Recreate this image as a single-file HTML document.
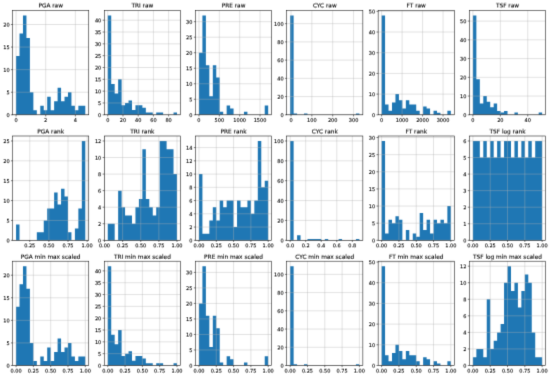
<!DOCTYPE html><html><head><meta charset="utf-8"><title>histograms</title><style>html,body{margin:0;padding:0;background:#fff}svg{display:block}text{font-family:"DejaVu Sans","Liberation Sans",sans-serif;fill:#000;stroke:#000;stroke-width:0.1px}.t{font-size:5.80px;text-anchor:middle}.x{font-size:5.00px;text-anchor:middle}.y{font-size:5.00px;text-anchor:end}.g{stroke:#b0b0b0;stroke-width:0.37}.s{stroke:#111;stroke-width:0.55;fill:none}.b{fill:#1f77b4}</style></head><body>
<svg width="550" height="377" viewBox="0 0 550 377">
<defs>
<filter id="soft" x="0" y="0" width="550" height="377" filterUnits="userSpaceOnUse" color-interpolation-filters="sRGB"><feConvolveMatrix order="3" kernelMatrix="0.0121 0.0858 0.0121 0.0858 0.6084 0.0858 0.0121 0.0858 0.0121" edgeMode="duplicate" preserveAlpha="true"/></filter>
<filter id="s0" x="0" y="0" width="550" height="377" filterUnits="userSpaceOnUse" color-interpolation-filters="sRGB"><feConvolveMatrix order="3" kernelMatrix="0.0550 0.3900 0.0550 0.0550 0.3900 0.0550 0.0000 0.0000 0.0000" edgeMode="none" preserveAlpha="false"/></filter>
<filter id="s1" x="0" y="0" width="550" height="377" filterUnits="userSpaceOnUse" color-interpolation-filters="sRGB"><feConvolveMatrix order="3" kernelMatrix="0.0413 0.2925 0.0413 0.0688 0.4875 0.0688 0.0000 0.0000 0.0000" edgeMode="none" preserveAlpha="false"/></filter>
<filter id="s2" x="0" y="0" width="550" height="377" filterUnits="userSpaceOnUse" color-interpolation-filters="sRGB"><feConvolveMatrix order="3" kernelMatrix="0.0293 0.2077 0.0293 0.0789 0.5597 0.0789 0.0018 0.0127 0.0018" edgeMode="none" preserveAlpha="false"/></filter>
<filter id="s3" x="0" y="0" width="550" height="377" filterUnits="userSpaceOnUse" color-interpolation-filters="sRGB"><feConvolveMatrix order="3" kernelMatrix="0.0198 0.1406 0.0198 0.0841 0.5962 0.0841 0.0061 0.0431 0.0061" edgeMode="none" preserveAlpha="false"/></filter>
<filter id="s4" x="0" y="0" width="550" height="377" filterUnits="userSpaceOnUse" color-interpolation-filters="sRGB"><feConvolveMatrix order="3" kernelMatrix="0.0121 0.0858 0.0121 0.0858 0.6084 0.0858 0.0121 0.0858 0.0121" edgeMode="none" preserveAlpha="false"/></filter>
<filter id="s5" x="0" y="0" width="550" height="377" filterUnits="userSpaceOnUse" color-interpolation-filters="sRGB"><feConvolveMatrix order="3" kernelMatrix="0.0061 0.0431 0.0061 0.0841 0.5962 0.0841 0.0198 0.1406 0.0198" edgeMode="none" preserveAlpha="false"/></filter>
<filter id="s6" x="0" y="0" width="550" height="377" filterUnits="userSpaceOnUse" color-interpolation-filters="sRGB"><feConvolveMatrix order="3" kernelMatrix="0.0018 0.0127 0.0018 0.0789 0.5597 0.0789 0.0293 0.2077 0.0293" edgeMode="none" preserveAlpha="false"/></filter>
<filter id="s7" x="0" y="0" width="550" height="377" filterUnits="userSpaceOnUse" color-interpolation-filters="sRGB"><feConvolveMatrix order="3" kernelMatrix="0.0000 0.0000 0.0000 0.0688 0.4875 0.0688 0.0413 0.2925 0.0413" edgeMode="none" preserveAlpha="false"/></filter>
</defs>
<rect width="550" height="377" fill="#fff"/>
<g filter="url(#soft)"><rect width="550" height="377" fill="#fff"/>
<path class="b" d="M16.06 114.8V56.1H19.52V114.8ZM19.52 114.8V33.53H22.98V114.8ZM22.98 114.8V15.47H26.45V114.8ZM26.45 114.8V38.04H29.91V114.8ZM29.91 114.8V92.22H33.37V114.8ZM33.37 114.8V110.28H36.83V114.8ZM40.29 114.8V105.77H43.75V114.8ZM43.75 114.8V110.28H47.21V114.8ZM47.21 114.8V96.74H50.67V114.8ZM50.67 114.8V110.28H54.14V114.8ZM54.14 114.8V101.25H57.6V114.8ZM57.6 114.8V87.71H61.06V114.8ZM61.06 114.8V101.25H64.52V114.8ZM64.52 114.8V96.74H67.98V114.8ZM67.98 114.8V92.22H71.44V114.8ZM71.44 114.8V105.77H74.9V114.8ZM74.9 114.8V110.28H78.37V114.8ZM78.37 114.8V105.77H81.83V114.8ZM81.83 114.8V105.77H85.29V114.8Z"/>
<path class="g" d="M16.06 10.5V114.8M45.71 10.5V114.8M75.36 10.5V114.8M12.6 114.8H88.75M12.6 92.22H88.75M12.6 69.65H88.75M12.6 47.07H88.75M12.6 24.5H88.75"/>
<path class="s" d="M16.06 114.8v1.66M45.71 114.8v1.66M75.36 114.8v1.66M12.6 114.8h-1.66M12.6 92.22h-1.66M12.6 69.65h-1.66M12.6 47.07h-1.66M12.6 24.5h-1.66"/>
<rect class="s" x="12.6" y="10.5" width="76.15" height="104.3"/>
<path class="b" d="M107.76 114.8V15.47H111.22V114.8ZM111.22 114.8V84.05H114.68V114.8ZM114.68 114.8V93.51H118.15V114.8ZM118.15 114.8V79.32H121.61V114.8ZM121.61 114.8V105.34H125.07V114.8ZM125.07 114.8V102.97H128.53V114.8ZM128.53 114.8V100.61H131.99V114.8ZM131.99 114.8V110.07H135.45V114.8ZM135.45 114.8V105.34H138.91V114.8ZM138.91 114.8V105.34H142.38V114.8ZM142.38 114.8V107.7H145.84V114.8ZM145.84 114.8V112.43H149.3V114.8ZM149.3 114.8V112.43H152.76V114.8ZM156.22 114.8V112.43H159.68V114.8ZM159.68 114.8V112.43H163.14V114.8ZM173.53 114.8V112.43H176.99V114.8Z"/>
<path class="g" d="M107.76 10.5V114.8M122.98 10.5V114.8M138.19 10.5V114.8M153.41 10.5V114.8M168.62 10.5V114.8M104.3 114.8H180.45M104.3 102.97H180.45M104.3 91.15H180.45M104.3 79.32H180.45M104.3 67.5H180.45M104.3 55.67H180.45M104.3 43.85H180.45M104.3 32.02H180.45M104.3 20.2H180.45"/>
<path class="s" d="M107.76 114.8v1.66M122.98 114.8v1.66M138.19 114.8v1.66M153.41 114.8v1.66M168.62 114.8v1.66M104.3 114.8h-1.66M104.3 102.97h-1.66M104.3 91.15h-1.66M104.3 79.32h-1.66M104.3 67.5h-1.66M104.3 55.67h-1.66M104.3 43.85h-1.66M104.3 32.02h-1.66M104.3 20.2h-1.66"/>
<rect class="s" x="104.3" y="10.5" width="76.15" height="104.3"/>
<path class="b" d="M198.96 114.8V52.72H202.42V114.8ZM202.42 114.8V15.47H205.88V114.8ZM205.88 114.8V65.13H209.35V114.8ZM209.35 114.8V96.17H212.81V114.8ZM212.81 114.8V65.13H216.27V114.8ZM216.27 114.8V77.55H219.73V114.8ZM219.73 114.8V111.7H223.19V114.8ZM226.65 114.8V105.49H230.11V114.8ZM230.11 114.8V108.59H233.57V114.8ZM243.96 114.8V111.7H247.42V114.8ZM264.73 114.8V105.49H268.19V114.8Z"/>
<path class="g" d="M198.96 10.5V114.8M219.32 10.5V114.8M239.68 10.5V114.8M260.04 10.5V114.8M195.5 114.8H271.65M195.5 99.28H271.65M195.5 83.76H271.65M195.5 68.24H271.65M195.5 52.72H271.65M195.5 37.2H271.65M195.5 21.68H271.65"/>
<path class="s" d="M198.96 114.8v1.66M219.32 114.8v1.66M239.68 114.8v1.66M260.04 114.8v1.66M195.5 114.8h-1.66M195.5 99.28h-1.66M195.5 83.76h-1.66M195.5 68.24h-1.66M195.5 52.72h-1.66M195.5 37.2h-1.66M195.5 21.68h-1.66"/>
<rect class="s" x="195.5" y="10.5" width="76.15" height="104.3"/>
<path class="b" d="M290.16 114.8V15.47H293.62V114.8ZM293.62 114.8V113.54H297.08V114.8ZM304.01 114.8V113.54H307.47V114.8ZM355.93 114.8V113.54H359.39V114.8Z"/>
<path class="g" d="M291 10.5V114.8M311.85 10.5V114.8M332.7 10.5V114.8M353.55 10.5V114.8M286.7 114.8H362.85M286.7 96.57H362.85M286.7 78.35H362.85M286.7 60.12H362.85M286.7 41.89H362.85M286.7 23.67H362.85"/>
<path class="s" d="M291 114.8v1.66M311.85 114.8v1.66M332.7 114.8v1.66M353.55 114.8v1.66M286.7 114.8h-1.66M286.7 96.57h-1.66M286.7 78.35h-1.66M286.7 60.12h-1.66M286.7 41.89h-1.66M286.7 23.67h-1.66"/>
<rect class="s" x="286.7" y="10.5" width="76.15" height="104.3"/>
<path class="b" d="M381.61 114.8V15.47H385.07V114.8ZM385.07 114.8V104.45H388.53V114.8ZM388.53 114.8V110.66H392V114.8ZM392 114.8V102.38H395.46V114.8ZM395.46 114.8V94.11H398.92V114.8ZM398.92 114.8V100.31H402.38V114.8ZM402.38 114.8V108.59H405.84V114.8ZM405.84 114.8V100.31H409.3V114.8ZM409.3 114.8V104.45H412.76V114.8ZM412.76 114.8V104.45H416.22V114.8ZM416.22 114.8V110.66H419.69V114.8ZM423.15 114.8V106.52H426.61V114.8ZM426.61 114.8V108.59H430.07V114.8ZM433.53 114.8V110.66H436.99V114.8ZM436.99 114.8V112.73H440.45V114.8ZM447.38 114.8V110.66H450.84V114.8Z"/>
<path class="g" d="M381.61 10.5V114.8M402.09 10.5V114.8M422.57 10.5V114.8M443.06 10.5V114.8M378.15 114.8H454.3M378.15 94.11H454.3M378.15 73.41H454.3M378.15 52.72H454.3M378.15 32.02H454.3M378.15 11.33H454.3"/>
<path class="s" d="M381.61 114.8v1.66M402.09 114.8v1.66M422.57 114.8v1.66M443.06 114.8v1.66M378.15 114.8h-1.66M378.15 94.11h-1.66M378.15 73.41h-1.66M378.15 52.72h-1.66M378.15 32.02h-1.66M378.15 11.33h-1.66"/>
<rect class="s" x="378.15" y="10.5" width="76.15" height="104.3"/>
<path class="b" d="M472.91 114.8V15.47H476.37V114.8ZM476.37 114.8V79.19H479.83V114.8ZM479.83 114.8V103.55H483.3V114.8ZM483.3 114.8V96.06H486.76V114.8ZM486.76 114.8V101.68H490.22V114.8ZM490.22 114.8V107.3H493.68V114.8ZM493.68 114.8V103.55H497.14V114.8ZM497.14 114.8V111.05H500.6V114.8ZM500.6 114.8V112.58H504.06V114.8ZM504.06 114.8V111.05H507.52V114.8ZM514.45 114.8V112.58H517.91V114.8ZM538.68 114.8V112.58H542.14V114.8Z"/>
<path class="g" d="M472.91 10.5V114.8M500.33 10.5V114.8M527.74 10.5V114.8M469.45 114.8H545.6M469.45 96.06H545.6M469.45 77.32H545.6M469.45 58.57H545.6M469.45 39.83H545.6M469.45 21.09H545.6"/>
<path class="s" d="M472.91 114.8v1.66M500.33 114.8v1.66M527.74 114.8v1.66M469.45 114.8h-1.66M469.45 96.06h-1.66M469.45 77.32h-1.66M469.45 58.57h-1.66M469.45 39.83h-1.66M469.45 21.09h-1.66"/>
<rect class="s" x="469.45" y="10.5" width="76.15" height="104.3"/>
<path class="b" d="M16.06 240.3V224.41H19.52V240.3ZM36.83 240.3V232.35H40.29V240.3ZM40.29 240.3V232.35H43.75V240.3ZM43.75 240.3V220.43H47.21V240.3ZM47.21 240.3V208.51H50.67V240.3ZM50.67 240.3V208.51H54.14V240.3ZM54.14 240.3V192.62H57.6V240.3ZM57.6 240.3V204.54H61.06V240.3ZM61.06 240.3V188.65H64.52V240.3ZM64.52 240.3V196.59H67.98V240.3ZM67.98 240.3V232.35H71.44V240.3ZM74.9 240.3V228.38H78.37V240.3ZM78.37 240.3V208.51H81.83V240.3ZM81.83 240.3V140.97H85.29V240.3Z"/>
<path class="g" d="M29.75 136V240.3M48.88 136V240.3M68 136V240.3M87.12 136V240.3M12.6 240.3H88.75M12.6 220.43H88.75M12.6 200.57H88.75M12.6 180.7H88.75M12.6 160.83H88.75M12.6 140.97H88.75"/>
<path class="s" d="M29.75 240.3v1.66M48.88 240.3v1.66M68 240.3v1.66M87.12 240.3v1.66M12.6 240.3h-1.66M12.6 220.43h-1.66M12.6 200.57h-1.66M12.6 180.7h-1.66M12.6 160.83h-1.66M12.6 140.97h-1.66"/>
<rect class="s" x="12.6" y="136" width="76.15" height="104.3"/>
<path class="b" d="M107.76 240.3V223.74H111.22V240.3ZM111.22 240.3V223.74H114.68V240.3ZM118.15 240.3V190.63H121.61V240.3ZM121.61 240.3V207.19H125.07V240.3ZM125.07 240.3V215.47H128.53V240.3ZM128.53 240.3V215.47H131.99V240.3ZM131.99 240.3V223.74H135.45V240.3ZM135.45 240.3V207.19H138.91V240.3ZM138.91 240.3V198.91H142.38V240.3ZM142.38 240.3V149.24H145.84V240.3ZM145.84 240.3V198.91H149.3V240.3ZM149.3 240.3V207.19H152.76V240.3ZM152.76 240.3V215.47H156.22V240.3ZM156.22 240.3V207.19H159.68V240.3ZM159.68 240.3V140.97H163.14V240.3ZM163.14 240.3V140.97H166.6V240.3ZM166.6 240.3V149.24H170.07V240.3ZM170.07 240.3V149.24H173.53V240.3ZM173.53 240.3V174.08H176.99V240.3Z"/>
<path class="g" d="M104.5 136V240.3M122.62 136V240.3M140.74 136V240.3M158.87 136V240.3M176.99 136V240.3M104.3 240.3H180.45M104.3 223.74H180.45M104.3 207.19H180.45M104.3 190.63H180.45M104.3 174.08H180.45M104.3 157.52H180.45M104.3 140.97H180.45"/>
<path class="s" d="M104.5 240.3v1.66M122.62 240.3v1.66M140.74 240.3v1.66M158.87 240.3v1.66M176.99 240.3v1.66M104.3 240.3h-1.66M104.3 223.74h-1.66M104.3 207.19h-1.66M104.3 190.63h-1.66M104.3 174.08h-1.66M104.3 157.52h-1.66M104.3 140.97h-1.66"/>
<rect class="s" x="104.3" y="136" width="76.15" height="104.3"/>
<path class="b" d="M198.96 240.3V174.08H202.42V240.3ZM202.42 240.3V233.68H205.88V240.3ZM205.88 240.3V233.68H209.35V240.3ZM209.35 240.3V220.43H212.81V240.3ZM212.81 240.3V207.19H216.27V240.3ZM216.27 240.3V220.43H219.73V240.3ZM219.73 240.3V200.57H223.19V240.3ZM223.19 240.3V207.19H226.65V240.3ZM226.65 240.3V200.57H230.11V240.3ZM230.11 240.3V200.57H233.57V240.3ZM233.57 240.3V227.06H237.04V240.3ZM237.04 240.3V200.57H240.5V240.3ZM240.5 240.3V207.19H243.96V240.3ZM243.96 240.3V207.19H247.42V240.3ZM247.42 240.3V200.57H250.88V240.3ZM250.88 240.3V213.81H254.34V240.3ZM254.34 240.3V200.57H257.8V240.3ZM257.8 240.3V140.97H261.27V240.3ZM261.27 240.3V187.32H264.73V240.3ZM264.73 240.3V180.7H268.19V240.3Z"/>
<path class="g" d="M198.96 136V240.3M216.27 136V240.3M233.57 136V240.3M250.88 136V240.3M268.19 136V240.3M195.5 240.3H271.65M195.5 227.06H271.65M195.5 213.81H271.65M195.5 200.57H271.65M195.5 187.32H271.65M195.5 174.08H271.65M195.5 160.83H271.65M195.5 147.59H271.65"/>
<path class="s" d="M198.96 240.3v1.66M216.27 240.3v1.66M233.57 240.3v1.66M250.88 240.3v1.66M268.19 240.3v1.66M195.5 240.3h-1.66M195.5 227.06h-1.66M195.5 213.81h-1.66M195.5 200.57h-1.66M195.5 187.32h-1.66M195.5 174.08h-1.66M195.5 160.83h-1.66M195.5 147.59h-1.66"/>
<rect class="s" x="195.5" y="136" width="76.15" height="104.3"/>
<path class="b" d="M290.16 240.3V140.97H293.62V240.3ZM297.08 240.3V235.33H300.55V240.3ZM307.47 240.3V238.96H310.93V240.3ZM310.93 240.3V238.96H314.39V240.3ZM314.39 240.3V238.96H317.85V240.3ZM317.85 240.3V238.96H321.31V240.3ZM324.77 240.3V238.96H328.24V240.3ZM338.62 240.3V238.96H342.08V240.3ZM355.93 240.3V238.96H359.39V240.3Z"/>
<path class="g" d="M290.16 136V240.3M305.7 136V240.3M321.24 136V240.3M336.78 136V240.3M352.32 136V240.3M286.7 240.3H362.85M286.7 220.43H362.85M286.7 200.57H362.85M286.7 180.7H362.85M286.7 160.83H362.85M286.7 140.97H362.85"/>
<path class="s" d="M290.16 240.3v1.66M305.7 240.3v1.66M321.24 240.3v1.66M336.78 240.3v1.66M352.32 240.3v1.66M286.7 240.3h-1.66M286.7 220.43h-1.66M286.7 200.57h-1.66M286.7 180.7h-1.66M286.7 160.83h-1.66M286.7 140.97h-1.66"/>
<rect class="s" x="286.7" y="136" width="76.15" height="104.3"/>
<path class="b" d="M381.61 240.3V140.97H385.07V240.3ZM385.07 240.3V233.45H388.53V240.3ZM388.53 240.3V219.75H392V240.3ZM392 240.3V223.17H395.46V240.3ZM395.46 240.3V216.32H398.92V240.3ZM398.92 240.3V219.75H402.38V240.3ZM405.84 240.3V230.02H409.3V240.3ZM412.76 240.3V233.45H416.22V240.3ZM416.22 240.3V236.87H419.69V240.3ZM419.69 240.3V212.9H423.15V240.3ZM423.15 240.3V230.02H426.61V240.3ZM426.61 240.3V219.75H430.07V240.3ZM430.07 240.3V233.45H433.53V240.3ZM433.53 240.3V219.75H436.99V240.3ZM436.99 240.3V223.17H440.45V240.3ZM440.45 240.3V219.75H443.92V240.3ZM443.92 240.3V223.17H447.38V240.3ZM447.38 240.3V206.05H450.84V240.3Z"/>
<path class="g" d="M381.61 136V240.3M398.92 136V240.3M416.22 136V240.3M433.53 136V240.3M450.84 136V240.3M378.15 240.3H454.3M378.15 223.17H454.3M378.15 206.05H454.3M378.15 188.92H454.3M378.15 171.79H454.3M378.15 154.67H454.3M378.15 137.54H454.3"/>
<path class="s" d="M381.61 240.3v1.66M398.92 240.3v1.66M416.22 240.3v1.66M433.53 240.3v1.66M450.84 240.3v1.66M378.15 240.3h-1.66M378.15 223.17h-1.66M378.15 206.05h-1.66M378.15 188.92h-1.66M378.15 171.79h-1.66M378.15 154.67h-1.66M378.15 137.54h-1.66"/>
<rect class="s" x="378.15" y="136" width="76.15" height="104.3"/>
<path class="b" d="M472.91 240.3V140.97H476.37V240.3ZM476.37 240.3V140.97H479.83V240.3ZM479.83 240.3V157.52H483.3V240.3ZM483.3 240.3V140.97H486.76V240.3ZM486.76 240.3V157.52H490.22V240.3ZM490.22 240.3V140.97H493.68V240.3ZM493.68 240.3V157.52H497.14V240.3ZM497.14 240.3V140.97H500.6V240.3ZM500.6 240.3V157.52H504.06V240.3ZM504.06 240.3V140.97H507.52V240.3ZM507.52 240.3V140.97H510.99V240.3ZM510.99 240.3V157.52H514.45V240.3ZM514.45 240.3V140.97H517.91V240.3ZM517.91 240.3V157.52H521.37V240.3ZM521.37 240.3V140.97H524.83V240.3ZM524.83 240.3V157.52H528.29V240.3ZM528.29 240.3V140.97H531.75V240.3ZM531.75 240.3V157.52H535.22V240.3ZM535.22 240.3V140.97H538.68V240.3ZM538.68 240.3V140.97H542.14V240.3Z"/>
<path class="g" d="M472.91 136V240.3M490.22 136V240.3M507.52 136V240.3M524.83 136V240.3M542.14 136V240.3M469.45 240.3H545.6M469.45 223.74H545.6M469.45 207.19H545.6M469.45 190.63H545.6M469.45 174.08H545.6M469.45 157.52H545.6M469.45 140.97H545.6"/>
<path class="s" d="M472.91 240.3v1.66M490.22 240.3v1.66M507.52 240.3v1.66M524.83 240.3v1.66M542.14 240.3v1.66M469.45 240.3h-1.66M469.45 223.74h-1.66M469.45 207.19h-1.66M469.45 190.63h-1.66M469.45 174.08h-1.66M469.45 157.52h-1.66M469.45 140.97h-1.66"/>
<rect class="s" x="469.45" y="136" width="76.15" height="104.3"/>
<path class="b" d="M16.06 365.5V306.8H19.52V365.5ZM19.52 365.5V284.23H22.98V365.5ZM22.98 365.5V266.17H26.45V365.5ZM26.45 365.5V288.74H29.91V365.5ZM29.91 365.5V342.92H33.37V365.5ZM33.37 365.5V360.98H36.83V365.5ZM40.29 365.5V356.47H43.75V365.5ZM43.75 365.5V360.98H47.21V365.5ZM47.21 365.5V347.44H50.68V365.5ZM50.68 365.5V360.98H54.14V365.5ZM54.14 365.5V351.95H57.6V365.5ZM57.6 365.5V338.41H61.06V365.5ZM61.06 365.5V351.95H64.52V365.5ZM64.52 365.5V347.44H67.98V365.5ZM67.98 365.5V342.92H71.44V365.5ZM71.44 365.5V356.47H74.9V365.5ZM74.9 365.5V360.98H78.37V365.5ZM78.37 365.5V356.47H81.83V365.5ZM81.83 365.5V356.47H85.29V365.5Z"/>
<path class="g" d="M16.06 261.2V365.5M33.37 261.2V365.5M50.68 261.2V365.5M67.98 261.2V365.5M85.29 261.2V365.5M12.6 365.5H88.75M12.6 342.92H88.75M12.6 320.35H88.75M12.6 297.77H88.75M12.6 275.2H88.75"/>
<path class="s" d="M16.06 365.5v1.66M33.37 365.5v1.66M50.68 365.5v1.66M67.98 365.5v1.66M85.29 365.5v1.66M12.6 365.5h-1.66M12.6 342.92h-1.66M12.6 320.35h-1.66M12.6 297.77h-1.66M12.6 275.2h-1.66"/>
<rect class="s" x="12.6" y="261.2" width="76.15" height="104.3"/>
<path class="b" d="M107.76 365.5V266.17H111.22V365.5ZM111.22 365.5V334.75H114.68V365.5ZM114.68 365.5V344.21H118.15V365.5ZM118.15 365.5V330.02H121.61V365.5ZM121.61 365.5V356.04H125.07V365.5ZM125.07 365.5V353.67H128.53V365.5ZM128.53 365.5V351.31H131.99V365.5ZM131.99 365.5V360.77H135.45V365.5ZM135.45 365.5V356.04H138.91V365.5ZM138.91 365.5V356.04H142.38V365.5ZM142.38 365.5V358.4H145.84V365.5ZM145.84 365.5V363.13H149.3V365.5ZM149.3 365.5V363.13H152.76V365.5ZM156.22 365.5V363.13H159.68V365.5ZM159.68 365.5V363.13H163.14V365.5ZM173.53 365.5V363.13H176.99V365.5Z"/>
<path class="g" d="M107.76 261.2V365.5M125.07 261.2V365.5M142.38 261.2V365.5M159.68 261.2V365.5M176.99 261.2V365.5M104.3 365.5H180.45M104.3 353.67H180.45M104.3 341.85H180.45M104.3 330.02H180.45M104.3 318.2H180.45M104.3 306.37H180.45M104.3 294.55H180.45M104.3 282.72H180.45M104.3 270.9H180.45"/>
<path class="s" d="M107.76 365.5v1.66M125.07 365.5v1.66M142.38 365.5v1.66M159.68 365.5v1.66M176.99 365.5v1.66M104.3 365.5h-1.66M104.3 353.67h-1.66M104.3 341.85h-1.66M104.3 330.02h-1.66M104.3 318.2h-1.66M104.3 306.37h-1.66M104.3 294.55h-1.66M104.3 282.72h-1.66M104.3 270.9h-1.66"/>
<rect class="s" x="104.3" y="261.2" width="76.15" height="104.3"/>
<path class="b" d="M198.96 365.5V303.42H202.42V365.5ZM202.42 365.5V266.17H205.88V365.5ZM205.88 365.5V315.83H209.35V365.5ZM209.35 365.5V346.88H212.81V365.5ZM212.81 365.5V315.83H216.27V365.5ZM216.27 365.5V328.25H219.73V365.5ZM219.73 365.5V362.4H223.19V365.5ZM226.65 365.5V356.19H230.11V365.5ZM230.11 365.5V359.29H233.57V365.5ZM243.96 365.5V362.4H247.42V365.5ZM264.73 365.5V356.19H268.19V365.5Z"/>
<path class="g" d="M198.96 261.2V365.5M216.27 261.2V365.5M233.57 261.2V365.5M250.88 261.2V365.5M268.19 261.2V365.5M195.5 365.5H271.65M195.5 349.98H271.65M195.5 334.46H271.65M195.5 318.94H271.65M195.5 303.42H271.65M195.5 287.9H271.65M195.5 272.38H271.65"/>
<path class="s" d="M198.96 365.5v1.66M216.27 365.5v1.66M233.57 365.5v1.66M250.88 365.5v1.66M268.19 365.5v1.66M195.5 365.5h-1.66M195.5 349.98h-1.66M195.5 334.46h-1.66M195.5 318.94h-1.66M195.5 303.42h-1.66M195.5 287.9h-1.66M195.5 272.38h-1.66"/>
<rect class="s" x="195.5" y="261.2" width="76.15" height="104.3"/>
<path class="b" d="M290.16 365.5V266.17H293.62V365.5ZM293.62 365.5V364.24H297.08V365.5ZM304.01 365.5V364.24H307.47V365.5ZM355.93 365.5V364.24H359.39V365.5Z"/>
<path class="g" d="M290.16 261.2V365.5M307.47 261.2V365.5M324.77 261.2V365.5M342.08 261.2V365.5M359.39 261.2V365.5M286.7 365.5H362.85M286.7 347.27H362.85M286.7 329.05H362.85M286.7 310.82H362.85M286.7 292.59H362.85M286.7 274.37H362.85"/>
<path class="s" d="M290.16 365.5v1.66M307.47 365.5v1.66M324.77 365.5v1.66M342.08 365.5v1.66M359.39 365.5v1.66M286.7 365.5h-1.66M286.7 347.27h-1.66M286.7 329.05h-1.66M286.7 310.82h-1.66M286.7 292.59h-1.66M286.7 274.37h-1.66"/>
<rect class="s" x="286.7" y="261.2" width="76.15" height="104.3"/>
<path class="b" d="M381.61 365.5V266.17H385.07V365.5ZM385.07 365.5V355.15H388.53V365.5ZM388.53 365.5V361.36H392V365.5ZM392 365.5V353.08H395.46V365.5ZM395.46 365.5V344.81H398.92V365.5ZM398.92 365.5V351.01H402.38V365.5ZM402.38 365.5V359.29H405.84V365.5ZM405.84 365.5V351.01H409.3V365.5ZM409.3 365.5V355.15H412.76V365.5ZM412.76 365.5V355.15H416.22V365.5ZM416.22 365.5V361.36H419.69V365.5ZM423.15 365.5V357.22H426.61V365.5ZM426.61 365.5V359.29H430.07V365.5ZM433.53 365.5V361.36H436.99V365.5ZM436.99 365.5V363.43H440.45V365.5ZM447.38 365.5V361.36H450.84V365.5Z"/>
<path class="g" d="M381.61 261.2V365.5M398.92 261.2V365.5M416.22 261.2V365.5M433.53 261.2V365.5M450.84 261.2V365.5M378.15 365.5H454.3M378.15 344.81H454.3M378.15 324.11H454.3M378.15 303.42H454.3M378.15 282.72H454.3M378.15 262.03H454.3"/>
<path class="s" d="M381.61 365.5v1.66M398.92 365.5v1.66M416.22 365.5v1.66M433.53 365.5v1.66M450.84 365.5v1.66M378.15 365.5h-1.66M378.15 344.81h-1.66M378.15 324.11h-1.66M378.15 303.42h-1.66M378.15 282.72h-1.66M378.15 262.03h-1.66"/>
<rect class="s" x="378.15" y="261.2" width="76.15" height="104.3"/>
<path class="b" d="M472.91 365.5V357.22H476.37V365.5ZM476.37 365.5V348.94H479.83V365.5ZM479.83 365.5V348.94H483.3V365.5ZM483.3 365.5V357.22H486.76V365.5ZM486.76 365.5V299.28H490.22V365.5ZM490.22 365.5V348.94H493.68V365.5ZM493.68 365.5V340.67H497.14V365.5ZM497.14 365.5V332.39H500.6V365.5ZM500.6 365.5V324.11H504.06V365.5ZM504.06 365.5V282.72H507.52V365.5ZM507.52 365.5V266.17H510.99V365.5ZM510.99 365.5V291H514.45V365.5ZM514.45 365.5V282.72H517.91V365.5ZM517.91 365.5V307.56H521.37V365.5ZM521.37 365.5V291H524.83V365.5ZM524.83 365.5V274.44H528.29V365.5ZM528.29 365.5V282.72H531.75V365.5ZM531.75 365.5V332.39H535.22V365.5ZM535.22 365.5V357.22H538.68V365.5ZM538.68 365.5V357.22H542.14V365.5Z"/>
<path class="g" d="M472.91 261.2V365.5M490.22 261.2V365.5M507.52 261.2V365.5M524.83 261.2V365.5M542.14 261.2V365.5M469.45 365.5H545.6M469.45 348.94H545.6M469.45 332.39H545.6M469.45 315.83H545.6M469.45 299.28H545.6M469.45 282.72H545.6M469.45 266.17H545.6"/>
<path class="s" d="M472.91 365.5v1.66M490.22 365.5v1.66M507.52 365.5v1.66M524.83 365.5v1.66M542.14 365.5v1.66M469.45 365.5h-1.66M469.45 348.94h-1.66M469.45 332.39h-1.66M469.45 315.83h-1.66M469.45 299.28h-1.66M469.45 282.72h-1.66M469.45 266.17h-1.66"/>
<rect class="s" x="469.45" y="261.2" width="76.15" height="104.3"/>
</g>
<g filter="url(#s0)">
<text class="t" x="50.67" y="8">PGA raw</text>
<text class="y" x="101.28" y="82">15</text>
<text class="t" x="142.38" y="8">TRI raw</text>
<text class="y" x="192.48" y="102">5</text>
<text class="t" x="233.57" y="8">PRE raw</text>
<text class="y" x="283.67" y="81">40</text>
<text class="t" x="324.77" y="8">CYC raw</text>
<text class="y" x="375.12" y="14">50</text>
<text class="t" x="416.22" y="8">FT raw</text>
<text class="y" x="466.42" y="80">20</text>
<text class="t" x="507.52" y="8">TSF raw</text>
<text class="y" x="9.58" y="243">0</text>
<text class="t" x="50.67" y="134">PGA rank</text>
<text class="y" x="101.28" y="243">0</text>
<text class="t" x="142.38" y="134">TRI rank</text>
<text class="y" x="192.48" y="243">0</text>
<text class="y" x="192.48" y="190">8</text>
<text class="t" x="233.57" y="134">PRE rank</text>
<text class="y" x="283.67" y="243">0</text>
<text class="t" x="324.77" y="134">CYC rank</text>
<text class="y" x="375.12" y="243">0</text>
<text class="t" x="416.22" y="134">FT rank</text>
<text class="y" x="466.42" y="243">0</text>
<text class="t" x="507.52" y="134">TSF log rank</text>
<text class="y" x="9.58" y="323">10</text>
<text class="y" x="101.28" y="309">25</text>
<text class="y" x="192.48" y="275">30</text>
<text class="y" x="283.67" y="350">20</text>
<text class="y" x="283.67" y="277">100</text>
<text class="y" x="466.42" y="335">4</text>
<text class="y" x="466.42" y="302">8</text>
</g>
<g filter="url(#s1)">
<text class="y" x="9.58" y="27">20</text>
<text class="y" x="101.28" y="70">20</text>
<text class="y" x="375.12" y="76">20</text>
<text class="y" x="9.58" y="223">5</text>
<text class="y" x="283.67" y="223">20</text>
<text class="x" x="16.06" y="373">0.00</text>
<text class="x" x="33.37" y="373">0.25</text>
<text class="x" x="50.68" y="373">0.50</text>
<text class="x" x="67.98" y="373">0.75</text>
<text class="x" x="85.29" y="373">1.00</text>
<text class="y" x="9.58" y="368">0</text>
<text class="x" x="107.76" y="373">0.00</text>
<text class="x" x="125.07" y="373">0.25</text>
<text class="x" x="142.38" y="373">0.50</text>
<text class="x" x="159.68" y="373">0.75</text>
<text class="x" x="176.99" y="373">1.00</text>
<text class="y" x="101.28" y="368">0</text>
<text class="x" x="198.96" y="373">0.00</text>
<text class="x" x="216.27" y="373">0.25</text>
<text class="x" x="233.57" y="373">0.50</text>
<text class="x" x="250.88" y="373">0.75</text>
<text class="x" x="268.19" y="373">1.00</text>
<text class="y" x="192.48" y="368">0</text>
<text class="y" x="192.48" y="337">10</text>
<text class="y" x="192.48" y="306">20</text>
<text class="x" x="290.16" y="373">0.00</text>
<text class="x" x="307.47" y="373">0.25</text>
<text class="x" x="324.77" y="373">0.50</text>
<text class="x" x="342.08" y="373">0.75</text>
<text class="x" x="359.39" y="373">1.00</text>
<text class="y" x="283.67" y="368">0</text>
<text class="x" x="381.61" y="373">0.00</text>
<text class="x" x="398.92" y="373">0.25</text>
<text class="x" x="416.22" y="373">0.50</text>
<text class="x" x="433.53" y="373">0.75</text>
<text class="x" x="450.84" y="373">1.00</text>
<text class="y" x="375.12" y="368">0</text>
<text class="y" x="375.12" y="306">30</text>
<text class="x" x="472.91" y="373">0.00</text>
<text class="x" x="490.22" y="373">0.25</text>
<text class="x" x="507.52" y="373">0.50</text>
<text class="x" x="524.83" y="373">0.75</text>
<text class="x" x="542.14" y="373">1.00</text>
<text class="y" x="466.42" y="368">0</text>
</g>
<g filter="url(#s2)">
<text class="y" x="283.67" y="99">20</text>
<text class="y" x="466.42" y="61">30</text>
<text class="y" x="9.58" y="203">10</text>
<text class="y" x="101.28" y="193">6</text>
<text class="y" x="101.28" y="160">10</text>
<text class="y" x="192.48" y="203">6</text>
<text class="y" x="192.48" y="150">14</text>
<text class="y" x="283.67" y="203">40</text>
<text class="y" x="375.12" y="140">30</text>
<text class="y" x="466.42" y="193">3</text>
<text class="y" x="466.42" y="160">5</text>
<text class="t" x="50.67" y="259">PGA min max scaled</text>
<text class="y" x="101.28" y="297">30</text>
<text class="t" x="142.38" y="259">TRI min max scaled</text>
<text class="t" x="233.57" y="259">PRE min max scaled</text>
<text class="y" x="283.67" y="295">80</text>
<text class="t" x="324.77" y="259">CYC min max scaled</text>
<text class="t" x="416.22" y="259">FT min max scaled</text>
<text class="t" x="507.52" y="259">TSF log min max scaled</text>
</g>
<g filter="url(#s3)">
<text class="x" x="16.06" y="122">0</text>
<text class="x" x="45.71" y="122">2</text>
<text class="x" x="75.36" y="122">4</text>
<text class="y" x="9.58" y="72">10</text>
<text class="x" x="107.76" y="122">0</text>
<text class="x" x="122.98" y="122">20</text>
<text class="x" x="138.19" y="122">40</text>
<text class="x" x="153.41" y="122">60</text>
<text class="x" x="168.62" y="122">80</text>
<text class="y" x="101.28" y="58">25</text>
<text class="x" x="198.96" y="122">0</text>
<text class="x" x="219.32" y="122">500</text>
<text class="x" x="239.68" y="122">1000</text>
<text class="x" x="260.04" y="122">1500</text>
<text class="y" x="192.48" y="86">10</text>
<text class="y" x="192.48" y="55">20</text>
<text class="y" x="192.48" y="24">30</text>
<text class="x" x="291" y="122">0</text>
<text class="x" x="311.85" y="122">100</text>
<text class="x" x="332.7" y="122">200</text>
<text class="x" x="353.55" y="122">300</text>
<text class="y" x="283.67" y="26">100</text>
<text class="x" x="381.61" y="122">0</text>
<text class="x" x="402.09" y="122">1000</text>
<text class="x" x="422.57" y="122">2000</text>
<text class="x" x="443.06" y="122">3000</text>
<text class="y" x="375.12" y="55">30</text>
<text class="x" x="472.91" y="122">0</text>
<text class="x" x="500.33" y="122">20</text>
<text class="x" x="527.74" y="122">40</text>
<text class="y" x="9.58" y="183">15</text>
<text class="y" x="101.28" y="226">2</text>
<text class="y" x="283.67" y="183">60</text>
<text class="y" x="375.12" y="157">25</text>
<text class="y" x="466.42" y="226">1</text>
<text class="y" x="101.28" y="356">5</text>
<text class="y" x="101.28" y="285">35</text>
<text class="y" x="375.12" y="285">40</text>
<text class="y" x="466.42" y="285">10</text>
</g>
<g filter="url(#s4)">
<text class="y" x="9.58" y="117">0</text>
<text class="y" x="101.28" y="117">0</text>
<text class="y" x="101.28" y="46">30</text>
<text class="y" x="192.48" y="117">0</text>
<text class="y" x="283.67" y="117">0</text>
<text class="y" x="375.12" y="117">0</text>
<text class="y" x="466.42" y="117">0</text>
<text class="y" x="466.42" y="42">40</text>
<text class="y" x="9.58" y="163">20</text>
<text class="y" x="192.48" y="216">4</text>
<text class="y" x="192.48" y="163">12</text>
<text class="y" x="283.67" y="163">80</text>
<text class="y" x="375.12" y="174">20</text>
<text class="y" x="9.58" y="300">15</text>
<text class="y" x="101.28" y="344">10</text>
<text class="y" x="283.67" y="313">60</text>
<text class="y" x="375.12" y="347">10</text>
<text class="y" x="466.42" y="318">6</text>
</g>
<g filter="url(#s5)">
<text class="y" x="101.28" y="105">5</text>
<text class="y" x="283.67" y="44">80</text>
<text class="y" x="9.58" y="143">25</text>
<text class="y" x="101.28" y="143">12</text>
<text class="y" x="283.67" y="143">100</text>
<text class="y" x="375.12" y="191">15</text>
<text class="y" x="466.42" y="143">6</text>
<text class="y" x="9.58" y="345">5</text>
<text class="y" x="101.28" y="273">40</text>
<text class="y" x="192.48" y="352">5</text>
<text class="y" x="192.48" y="321">15</text>
<text class="y" x="192.48" y="290">25</text>
<text class="y" x="466.42" y="351">2</text>
</g>
<g filter="url(#s6)">
<text class="y" x="9.58" y="49">15</text>
<text class="y" x="101.28" y="34">35</text>
<text class="y" x="283.67" y="62">60</text>
<text class="y" x="375.12" y="96">10</text>
<text class="y" x="375.12" y="34">40</text>
<text class="y" x="466.42" y="98">10</text>
<text class="y" x="466.42" y="23">50</text>
<text class="y" x="101.28" y="176">8</text>
<text class="y" x="192.48" y="229">2</text>
<text class="y" x="192.48" y="176">10</text>
<text class="y" x="375.12" y="208">10</text>
<text class="y" x="466.42" y="176">4</text>
<text class="y" x="101.28" y="332">15</text>
<text class="y" x="283.67" y="331">40</text>
<text class="y" x="375.12" y="326">20</text>
<text class="y" x="375.12" y="264">50</text>
</g>
<g filter="url(#s7)">
<text class="y" x="9.58" y="94">5</text>
<text class="y" x="101.28" y="93">10</text>
<text class="y" x="101.28" y="22">40</text>
<text class="y" x="192.48" y="70">15</text>
<text class="y" x="192.48" y="39">25</text>
<text class="x" x="29.75" y="247">0.25</text>
<text class="x" x="48.88" y="247">0.50</text>
<text class="x" x="68" y="247">0.75</text>
<text class="x" x="87.12" y="247">1.00</text>
<text class="x" x="104.5" y="247">0.00</text>
<text class="x" x="122.62" y="247">0.25</text>
<text class="x" x="140.74" y="247">0.50</text>
<text class="x" x="158.87" y="247">0.75</text>
<text class="x" x="176.99" y="247">1.00</text>
<text class="y" x="101.28" y="209">4</text>
<text class="x" x="198.96" y="247">0.00</text>
<text class="x" x="216.27" y="247">0.25</text>
<text class="x" x="233.57" y="247">0.50</text>
<text class="x" x="250.88" y="247">0.75</text>
<text class="x" x="268.19" y="247">1.00</text>
<text class="x" x="290.16" y="247">0.0</text>
<text class="x" x="305.7" y="247">0.2</text>
<text class="x" x="321.24" y="247">0.4</text>
<text class="x" x="336.78" y="247">0.6</text>
<text class="x" x="352.32" y="247">0.8</text>
<text class="x" x="381.61" y="247">0.00</text>
<text class="x" x="398.92" y="247">0.25</text>
<text class="x" x="416.22" y="247">0.50</text>
<text class="x" x="433.53" y="247">0.75</text>
<text class="x" x="450.84" y="247">1.00</text>
<text class="y" x="375.12" y="225">5</text>
<text class="x" x="472.91" y="247">0.00</text>
<text class="x" x="490.22" y="247">0.25</text>
<text class="x" x="507.52" y="247">0.50</text>
<text class="x" x="524.83" y="247">0.75</text>
<text class="x" x="542.14" y="247">1.00</text>
<text class="y" x="466.42" y="209">2</text>
<text class="y" x="9.58" y="277">20</text>
<text class="y" x="101.28" y="320">20</text>
<text class="y" x="466.42" y="268">12</text>
</g>
</svg></body></html>
